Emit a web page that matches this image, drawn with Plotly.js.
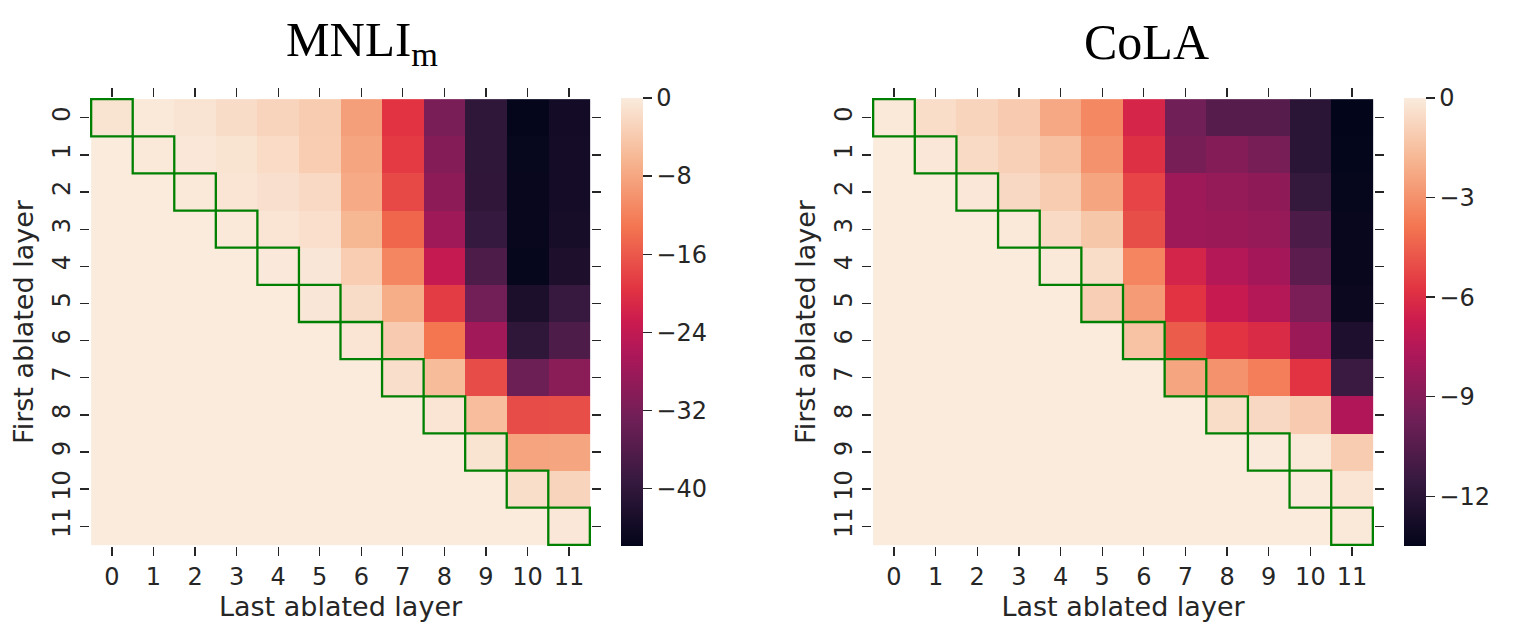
<!DOCTYPE html>
<html>
<head>
<meta charset="utf-8">
<script src="https://cdn.plot.ly/plotly-3.0.1.min.js"></script>
<style>html,body{margin:0;padding:0;background:#fff;}</style>
</head>
<body>
<div id="chart" style="width:1522px;height:632px;"></div>
<script>
// ---------------- data ----------------
const layers = ['0','1','2','3','4','5','6','7','8','9','10','11'];

// rows = first ablated layer, columns = last ablated layer
const mnliValues = [
  [-1.0, -0.4, -0.9, -1.8, -2.7, -3.7, -8.8, -19.7, -31.7, -40.1, -45.6, -43.7],
  [ 0.0, -0.4, -0.5, -1.0, -1.9, -3.6, -8.0, -19.0, -30.6, -40.1, -45.4, -43.6],
  [ 0.0,  0.0, -0.4, -0.7, -1.3, -2.2, -7.6, -17.5, -29.8, -40.0, -45.3, -43.5],
  [ 0.0,  0.0,  0.0, -0.3, -0.7, -1.4, -6.2, -14.7, -27.7, -39.3, -45.3, -43.3],
  [ 0.0,  0.0,  0.0,  0.0, -0.2, -0.6, -3.6, -11.3, -23.7, -36.6, -45.5, -42.4],
  [ 0.0,  0.0,  0.0,  0.0,  0.0, -0.6, -1.8,  -7.2, -18.8, -32.6, -42.7, -39.1],
  [ 0.0,  0.0,  0.0,  0.0,  0.0,  0.0, -0.8,  -3.8, -13.1, -27.5, -40.1, -36.6],
  [ 0.0,  0.0,  0.0,  0.0,  0.0,  0.0,  0.0,  -1.5,  -5.6, -17.2, -33.2, -30.0],
  [ 0.0,  0.0,  0.0,  0.0,  0.0,  0.0,  0.0,   0.0,  -0.7,  -5.5, -17.2, -17.0],
  [ 0.0,  0.0,  0.0,  0.0,  0.0,  0.0,  0.0,   0.0,   0.0,  -1.0,  -8.3,  -8.1],
  [ 0.0,  0.0,  0.0,  0.0,  0.0,  0.0,  0.0,   0.0,   0.0,   0.0,  -1.6,  -2.8],
  [ 0.0,  0.0,  0.0,  0.0,  0.0,  0.0,  0.0,   0.0,   0.0,   0.0,   0.0,  -0.5]
];

const colaValues = [
  [-0.1, -0.5, -0.8, -1.15, -2.3, -3.3, -6.3, -9.6, -10.5, -10.5, -12.0, -13.5],
  [ 0.0, -0.15, -0.6, -0.95, -1.5, -3.0, -5.9, -9.4, -9.0, -9.4, -12.0, -13.45],
  [ 0.0,  0.0, -0.15, -0.65, -1.1, -2.35, -5.3, -8.2, -8.5, -8.7, -11.6, -13.4],
  [ 0.0,  0.0,  0.0, -0.1, -0.6, -1.25, -5.0, -8.2, -8.25, -8.4, -10.8, -13.3],
  [ 0.0,  0.0,  0.0,  0.0, -0.1, -0.5, -3.4, -6.4, -7.5, -8.0, -10.3, -13.3],
  [ 0.0,  0.0,  0.0,  0.0,  0.0, -1.0, -2.7, -5.8, -6.9, -7.5, -9.3, -13.2],
  [ 0.0,  0.0,  0.0,  0.0,  0.0,  0.0, -1.4, -4.6, -5.8, -6.1, -8.25, -12.5],
  [ 0.0,  0.0,  0.0,  0.0,  0.0,  0.0,  0.0, -2.4, -3.0, -3.6, -5.8, -11.4],
  [ 0.0,  0.0,  0.0,  0.0,  0.0,  0.0,  0.0,  0.0, -0.5, -0.65, -1.15, -7.6],
  [ 0.0,  0.0,  0.0,  0.0,  0.0,  0.0,  0.0,  0.0,  0.0, -0.05, -0.1, -1.1],
  [ 0.0,  0.0,  0.0,  0.0,  0.0,  0.0,  0.0,  0.0,  0.0,  0.0, -0.05, -0.2],
  [ 0.0,  0.0,  0.0,  0.0,  0.0,  0.0,  0.0,  0.0,  0.0,  0.0,  0.0, -0.1]
];

const mnliRange = [-45.9, 0];
const colaRange = [-13.5, 0];
const mnliTickVals = [0, -8, -16, -24, -32, -40];
const mnliTickText = ['0', '\u22128', '\u221216', '\u221224', '\u221232', '\u221240'];
const colaTickVals = [0, -3, -6, -9, -12];
const colaTickText = ['0', '\u22123', '\u22126', '\u22129', '\u221212'];

const titleMnli = 'MNLI<sub>m</sub>';
const titleCola = 'CoLA';
const xTitle = 'Last ablated layer';
const yTitle = 'First ablated layer';

// ---------------- styling ----------------
const W = 1522, H = 632;
const px = v => v / W;
const py = v => 1 - v / H;

const rocket = [
  [0.0, '#03051a'], [0.1429, '#35193e'], [0.2857, '#701f57'], [0.4286, '#ad1759'],
  [0.5, '#cb1b4f'], [0.5714, '#e13342'], [0.7143, '#f37651'], [0.8571, '#f6b48f'], [1.0, '#faebdd']
];

const textColor = '#262626';
const tickFont = {family: 'DejaVu Sans', size: 24, color: textColor};
const labelFont = {family: 'DejaVu Sans', size: 27, color: textColor};

const plotTop = 98, plotBottom = 546;
const yDomain = [py(plotBottom), py(plotTop)];

function xAxis(domain, anchor) {
  return {
    domain: domain, anchor: anchor, type: 'category',
    ticks: 'outside', ticklen: 9, tickwidth: 1.3, tickcolor: textColor,
    mirror: 'ticks', showline: false, showgrid: false, zeroline: false,
    tickfont: tickFont, fixedrange: true,
    title: {text: xTitle, font: labelFont, standoff: 4}
  };
}
function yAxis(anchor) {
  return {
    domain: yDomain, anchor: anchor, type: 'category', autorange: 'reversed',
    ticks: 'outside', ticklen: 9, tickwidth: 1.3, tickcolor: textColor,
    mirror: 'ticks', showline: false, showgrid: false, zeroline: false,
    tickangle: -90, tickfont: tickFont, fixedrange: true,
    title: {text: yTitle, font: labelFont, standoff: 6}
  };
}
function colorAxis(range, tickvals, ticktext, left) {
  return {
    cmin: range[0], cmax: range[1], colorscale: rocket, showscale: true,
    colorbar: {
      x: px(left), xanchor: 'left', xpad: 0,
      y: py(plotTop), yanchor: 'top', ypad: 0,
      len: (plotBottom - plotTop) / H, lenmode: 'fraction',
      thickness: 22, thicknessmode: 'pixels', outlinewidth: 0,
      ticks: 'outside', ticklen: 9, tickwidth: 1.3, tickcolor: textColor,
      tickvals: tickvals, ticktext: ticktext, tickfont: tickFont
    }
  };
}

const traces = [
  {type: 'heatmap', x: layers, y: layers, z: mnliValues, coloraxis: 'coloraxis',
   xaxis: 'x', yaxis: 'y', hoverongaps: false},
  {type: 'heatmap', x: layers, y: layers, z: colaValues, coloraxis: 'coloraxis2',
   xaxis: 'x2', yaxis: 'y2', hoverongaps: false}
];

// green outlines around diagonal cells (first == last ablated layer)
const shapes = [];
[['x', 'y'], ['x2', 'y2']].forEach(([xr, yr]) => {
  layers.forEach((lab, i) => {
    shapes.push({type: 'rect', xref: xr, yref: yr,
      x0: i - 0.5, x1: i + 0.5, y0: i - 0.5, y1: i + 0.5,
      line: {color: '#008000', width: 2.3}, fillcolor: 'rgba(0,0,0,0)'});
  });
});

const layout = {
  width: W, height: H,
  margin: {l: 0, r: 0, t: 0, b: 0},
  paper_bgcolor: '#ffffff', plot_bgcolor: '#ffffff',
  showlegend: false,
  xaxis: xAxis([px(90), px(591)], 'y'),
  yaxis: yAxis('x'),
  xaxis2: xAxis([px(872), px(1374)], 'y2'),
  yaxis2: yAxis('x2'),
  coloraxis: colorAxis(mnliRange, mnliTickVals, mnliTickText, 621),
  coloraxis2: colorAxis(colaRange, colaTickVals, colaTickText, 1404),
  shapes: shapes,
  annotations: [
    {text: titleMnli, xref: 'paper', yref: 'paper', x: px(362), y: py(42),
     xanchor: 'center', yanchor: 'middle', showarrow: false,
     font: {family: 'Liberation Serif', size: 49, color: '#000000'}},
    {text: titleCola, xref: 'paper', yref: 'paper', x: px(1146), y: py(42),
     xanchor: 'center', yanchor: 'middle', showarrow: false,
     font: {family: 'Liberation Serif', size: 50, color: '#000000'}}
  ]
};

Plotly.newPlot('chart', traces, layout, {displayModeBar: false, staticPlot: true});
</script>
</body>
</html>
